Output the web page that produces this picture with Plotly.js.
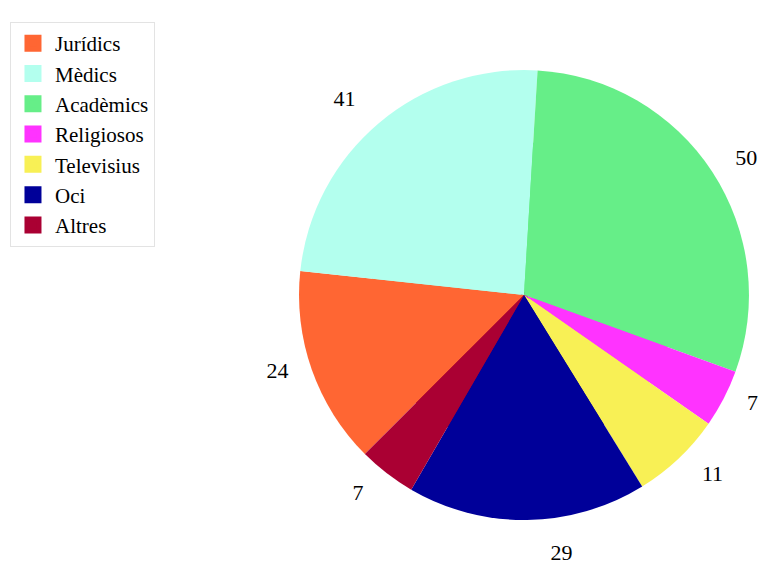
<!DOCTYPE html>
<html>
<head>
<meta charset="utf-8">
<script src="https://cdn.plot.ly/plotly-3.0.1.min.js"></script>
<style>html,body{margin:0;padding:0;background:#fff;overflow:hidden}#chart{width:762px;height:568px}</style>
</head>
<body>
<div id="chart"></div>
<script>
var categories = ["Jurídics", "Mèdics", "Acadèmics", "Religiosos", "Televisius", "Oci", "Altres"];
var counts = [24, 41, 50, 7, 11, 29, 7];
var colors = ["#FF6633", "#B3FFEE", "#66EE88", "#FF33FF", "#F8F055", "#000099", "#AA0033"];

var serif = "Liberation Serif, Times New Roman, serif";

// hidden copy underneath: only supplies the larger legend swatches
var legendSource = {
  type: "pie",
  labels: categories,
  values: counts,
  sort: false,
  direction: "clockwise",
  rotation: 225,
  marker: {colors: colors, line: {color: colors, width: 5}},
  textinfo: "none",
  hoverinfo: "skip",
  domain: {x: [0.4908, 0.8845], y: [0.2165, 0.7447]}
};

// blank padding around each value pushes the outside labels further from the rim
var pad = "<span style='font-size:12px'>&nbsp;</span>";
var main = {
  type: "pie",
  labels: categories,
  values: counts,
  sort: false,
  direction: "clockwise",
  rotation: 225,
  marker: {colors: colors, line: {width: 0}},
  texttemplate: pad + "<br><span style='fill:#000;fill-opacity:1'>&nbsp;%{value}&nbsp;</span><br>" + pad,
  textposition: "outside",
  outsidetextfont: {family: serif, size: 22, color: "rgba(0,0,0,0)"},
  hoverinfo: "label+value",
  domain: {x: [0.3924, 0.9829], y: [0.0845, 0.8768]}
};

var layout = {
  width: 762, height: 568,
  margin: {l: 0, r: 0, t: 0, b: 0},
  paper_bgcolor: "#fff",
  font: {family: serif, color: "#000"},
  showlegend: true,
  legend: {
    x: 0.0131, y: 0.9613, xanchor: "left", yanchor: "top",
    itemwidth: 34,
    font: {family: serif, size: 21, color: "#000"},
    bordercolor: "#e3e3e3", borderwidth: 1, bgcolor: "#fff"
  }
};

Plotly.newPlot("chart", [legendSource, main], layout, {displayModeBar: false, staticPlot: true});
</script>
</body>
</html>
